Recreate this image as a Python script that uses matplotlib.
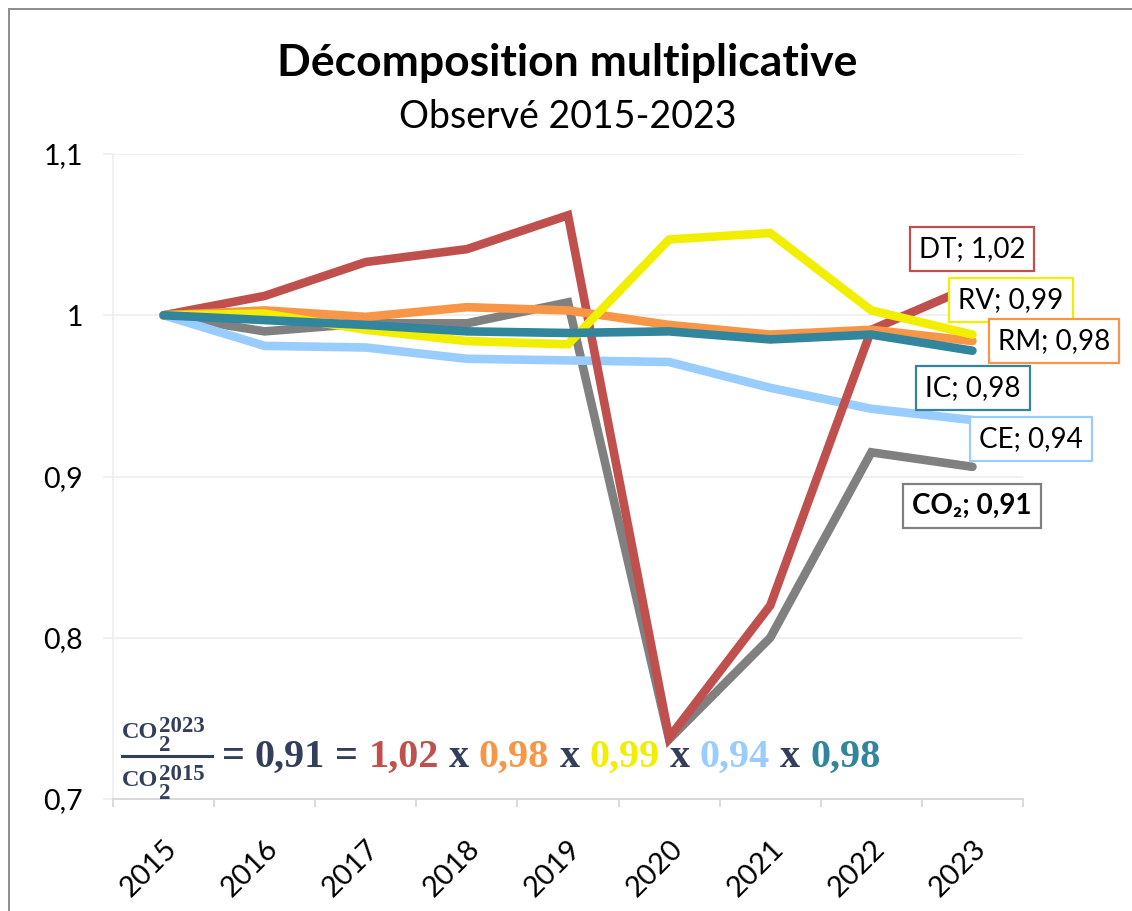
import matplotlib
matplotlib.use("Agg")
import matplotlib.pyplot as plt
from matplotlib.lines import Line2D
from matplotlib.patches import Rectangle

W, H = 1132, 911

years = ["2015", "2016", "2017", "2018", "2019", "2020", "2021", "2022", "2023"]
co2 = [1.0, 0.990, 0.995, 0.995, 1.008, 0.737, 0.800, 0.915, 0.906]
ce = [1.0, 0.981, 0.980, 0.973, 0.972, 0.971, 0.955, 0.942, 0.935]
dt = [1.0, 1.012, 1.033, 1.041, 1.062, 0.738, 0.820, 0.991, 1.018]
rm = [1.0, 1.003, 0.999, 1.005, 1.003, 0.994, 0.988, 0.991, 0.984]
rv = [1.0, 1.001, 0.991, 0.984, 0.982, 1.047, 1.051, 1.003, 0.988]
ic = [1.0, 0.997, 0.994, 0.990, 0.989, 0.990, 0.985, 0.988, 0.978]

labels = ["CO2", "CE", "DT", "RM", "RV", "IC"]
ratios = ["0,91", "0,94", "1,02", "0,98", "0,99", "0,98"]

C_CO2 = "#808080"
C_CE = "#99CCFF"
C_DT = "#C0504D"
C_RM = "#F79646"
C_RV = "#F2EE00"
C_IC = "#31859C"
C_DARK = "#333F5A"

plt.rcParams["font.family"] = ["Lato", "DejaVu Sans"]


def fx(x):
    return x / W


def fy(y):
    return 1 - y / H


fig = plt.figure(figsize=(W / 100, H / 100), dpi=100)
fig.patch.set_facecolor("white")
renderer = fig.canvas.get_renderer()

# chart area frame (only top/left visible in the reference)
fig.add_artist(Rectangle((fx(9), fy(H + 20)), fx(W + 20), fy(9) - fy(H + 20),
                         transform=fig.transFigure, fill=False,
                         edgecolor="#8C8C8C", linewidth=1.4))

ax = fig.add_axes([fx(113), fy(799), fx(1023) - fx(113), fy(154) - fy(799)])
x = list(range(len(years)))

series = [
    (co2, C_CO2, 1),
    (ce, C_CE, 2),
    (dt, C_DT, 3),
    (rm, C_RM, 4),
    (rv, C_RV, 5),
    (ic, C_IC, 6),
]
for vals, col, z in series:
    ax.plot(x, vals, color=col, linewidth=6.2, zorder=z + 2,
            solid_capstyle="round", solid_joinstyle="miter")

ax.set_xlim(-0.5, len(years) - 0.5)
ax.set_ylim(0.7, 1.1)

ax.set_yticks([0.7, 0.8, 0.9, 1.0, 1.1])
ax.set_yticklabels(["0,7", "0,8", "0,9", "1", "1,1"], fontsize=20.5)
ax.yaxis.grid(True, color="#EEEEEE", linewidth=1.2)
ax.tick_params(axis="y", length=7.5, color="#EEEEEE", width=1.2, pad=14)

ax.set_xticks(x)
ax.set_xticklabels(years, fontsize=21, rotation=45, ha="right",
                   rotation_mode="anchor")
ax.set_xticks([i - 0.5 for i in range(len(years) + 1)], minor=True)
ax.tick_params(axis="x", which="major", length=0, pad=26)
ax.tick_params(axis="x", which="minor", length=6, color="#D9D9D9", width=1.4)

for s in ["top", "right"]:
    ax.spines[s].set_visible(False)
ax.spines["left"].set_color("#EEEEEE")
ax.spines["left"].set_linewidth(1.2)
ax.spines["bottom"].set_color("#D9D9D9")
ax.spines["bottom"].set_linewidth(1.4)
ax.set_facecolor("none")

# titles
fig.text(fx(567), fy(63), "Décomposition multiplicative", ha="center",
         va="center", fontsize=32, fontweight="bold")
fig.text(fx(568), fy(117), "Observé 2015-2023", ha="center", va="center",
         fontsize=27)

# end labels
box_specs = [
    ("DT; " + ratios[2], C_DT, 972, 249, "normal"),
    ("RV; " + ratios[4], C_RV, 1011, 300, "normal"),
    ("RM; " + ratios[3], C_RM, 1054, 341, "normal"),
    ("IC; " + ratios[5], C_IC, 973, 388, "normal"),
    ("CE; " + ratios[1], C_CE, 1031, 439, "normal"),
    ("CO\u2082; " + ratios[0], C_CO2, 972, 506, "bold"),
]
for txt, col, bx, by, fw in box_specs:
    fig.text(fx(bx), fy(by), txt, ha="center", va="center", fontsize=20,
             fontweight=fw, zorder=20,
             bbox=dict(boxstyle="square,pad=0.32", facecolor="white",
                       edgecolor=col, linewidth=1.6))


# formula: CO2^2023 / CO2^2015
def co2_term(x0, base_y, year):
    t = fig.text(fx(x0), fy(base_y), "CO", ha="left", va="baseline",
                 fontsize=17.5, fontweight="bold", color=C_DARK,
                 family="Liberation Serif", zorder=20)
    w = t.get_window_extent(renderer).width
    fig.text(fx(x0 + w + 1), fy(base_y - 6), year, ha="left", va="baseline",
             fontsize=16.5, fontweight="bold", color=C_DARK,
             family="Liberation Serif", zorder=20)
    fig.text(fx(x0 + w + 1), fy(base_y + 13), "2", ha="left", va="baseline",
             fontsize=16.5, fontweight="bold", color=C_DARK,
             family="Liberation Serif", zorder=20)


co2_term(122, 738, "2023")
co2_term(122, 786, "2015")
fig.add_artist(Line2D([fx(122), fx(212)], [fy(756), fy(756)],
                      transform=fig.transFigure, color=C_DARK, linewidth=2.2,
                      zorder=20))

pieces = [
    ("=", C_DARK), ("0,91", C_DARK), ("=", C_DARK),
    (ratios[2], C_DT), ("x", C_DARK), (ratios[3], C_RM), ("x", C_DARK),
    (ratios[4], C_RV), ("x", C_DARK), (ratios[1], C_CE), ("x", C_DARK),
    (ratios[5], C_IC),
]
cur = 222
gap = 10
for txt, col in pieces:
    t = fig.text(fx(cur), fy(767), txt, ha="left", va="baseline",
                 fontsize=29, fontweight="bold", color=col,
                 family="Liberation Serif", zorder=20)
    bb = t.get_window_extent(renderer)
    cur += bb.width + gap

fig.savefig("out.png", dpi=100, facecolor="white")
